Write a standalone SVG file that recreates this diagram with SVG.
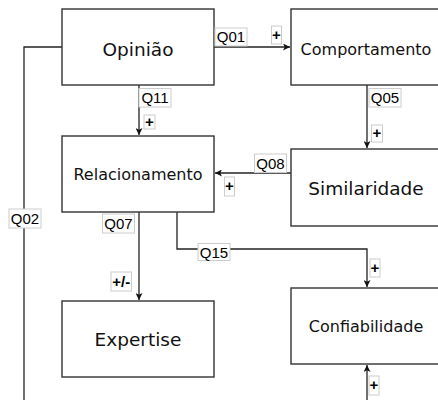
<svg xmlns="http://www.w3.org/2000/svg" width="438" height="400" viewBox="0 0 438 400">
<defs>
<style>
.node rect{fill:#fff;stroke:#333;stroke-width:1.4}
.node text{font-family:"DejaVu Sans",Verdana,sans-serif;fill:#111;text-anchor:middle}
.big{font-size:18.5px}
.small{font-size:16px}
.edges path{fill:none;stroke:#222;stroke-width:1.3}
.lbl rect{fill:#fff;stroke:#ccc;stroke-width:1}
.lbl text{font-family:"Liberation Sans",Arial,sans-serif;font-size:15px;fill:#000;text-anchor:middle}
.lbl text.sg{font-weight:bold}
</style>
<marker id="arr" viewBox="0 0 10 10" refX="10" refY="5" markerWidth="7" markerHeight="7" orient="auto" markerUnits="userSpaceOnUse">
<path d="M0,0 L10,5 L0,10 L2.5,5 Z" fill="#111"/>
</marker>
</defs>
<rect width="438" height="400" fill="#fff"/>
<g class="edges">
<path d="M214,47 H290" marker-end="url(#arr)"/>
<path d="M139,85 V135" marker-end="url(#arr)"/>
<path d="M367,85 V148" marker-end="url(#arr)"/>
<path d="M291,173 H215" marker-end="url(#arr)"/>
<path d="M62,47 H24 V400"/>
<path d="M139,212 V300" marker-end="url(#arr)"/>
<path d="M177,212 V249 H367 V287" marker-end="url(#arr)"/>
<path d="M367,400 V365" marker-end="url(#arr)"/>
</g>
<g id="opiniao" class="node"><rect x="62" y="9" width="152" height="76"/><text class="big" x="138" y="56">Opinião</text></g>
<g id="comportamento" class="node"><rect x="291" y="9" width="152" height="76"/><text class="small" x="366" y="55">Comportamento</text></g>
<g id="relacionamento" class="node"><rect x="62" y="136" width="152" height="76"/><text class="small" x="138" y="180">Relacionamento</text></g>
<g id="similaridade" class="node"><rect x="291" y="149" width="152" height="77"/><text class="big" x="366" y="195">Similaridade</text></g>
<g id="expertise" class="node"><rect x="62" y="301" width="152" height="76"/><text class="big" x="138" y="346">Expertise</text></g>
<g id="confiabilidade" class="node"><rect x="291" y="288" width="152" height="76"/><text class="small" x="366" y="332">Confiabilidade</text></g>
<g class="lbl">
<rect x="215" y="28" width="32" height="18"/><text x="231" y="42">Q01</text>
<rect x="271.5" y="26" width="10" height="18"/><text class="sg" x="276.5" y="40">+</text>
<rect x="139" y="88.5" width="32" height="18.5"/><text x="155" y="103">Q11</text>
<rect x="144" y="115" width="11" height="14"/><text class="sg" x="149.5" y="127">+</text>
<rect x="369" y="88.5" width="32" height="18.5"/><text x="385" y="103">Q05</text>
<rect x="371.5" y="125" width="11" height="17"/><text class="sg" x="377" y="138">+</text>
<rect x="254.5" y="154" width="32" height="18.5"/><text x="270.5" y="168.5">Q08</text>
<rect x="224.5" y="177" width="10" height="19"/><text class="sg" x="229.5" y="191">+</text>
<rect x="9" y="209" width="32" height="19"/><text x="25" y="224">Q02</text>
<rect x="102.5" y="214" width="32" height="19"/><text x="118.5" y="229">Q07</text>
<rect x="111" y="272" width="20.5" height="19"/><text class="sg" x="121.2" y="286.5">+/-</text>
<rect x="198" y="243.5" width="32" height="17"/><text x="214" y="257.5">Q15</text>
<rect x="370" y="259" width="10" height="18"/><text class="sg" x="375" y="273">+</text>
<rect x="369" y="376" width="10" height="19"/><text class="sg" x="374" y="390">+</text>
</g>
</svg>
